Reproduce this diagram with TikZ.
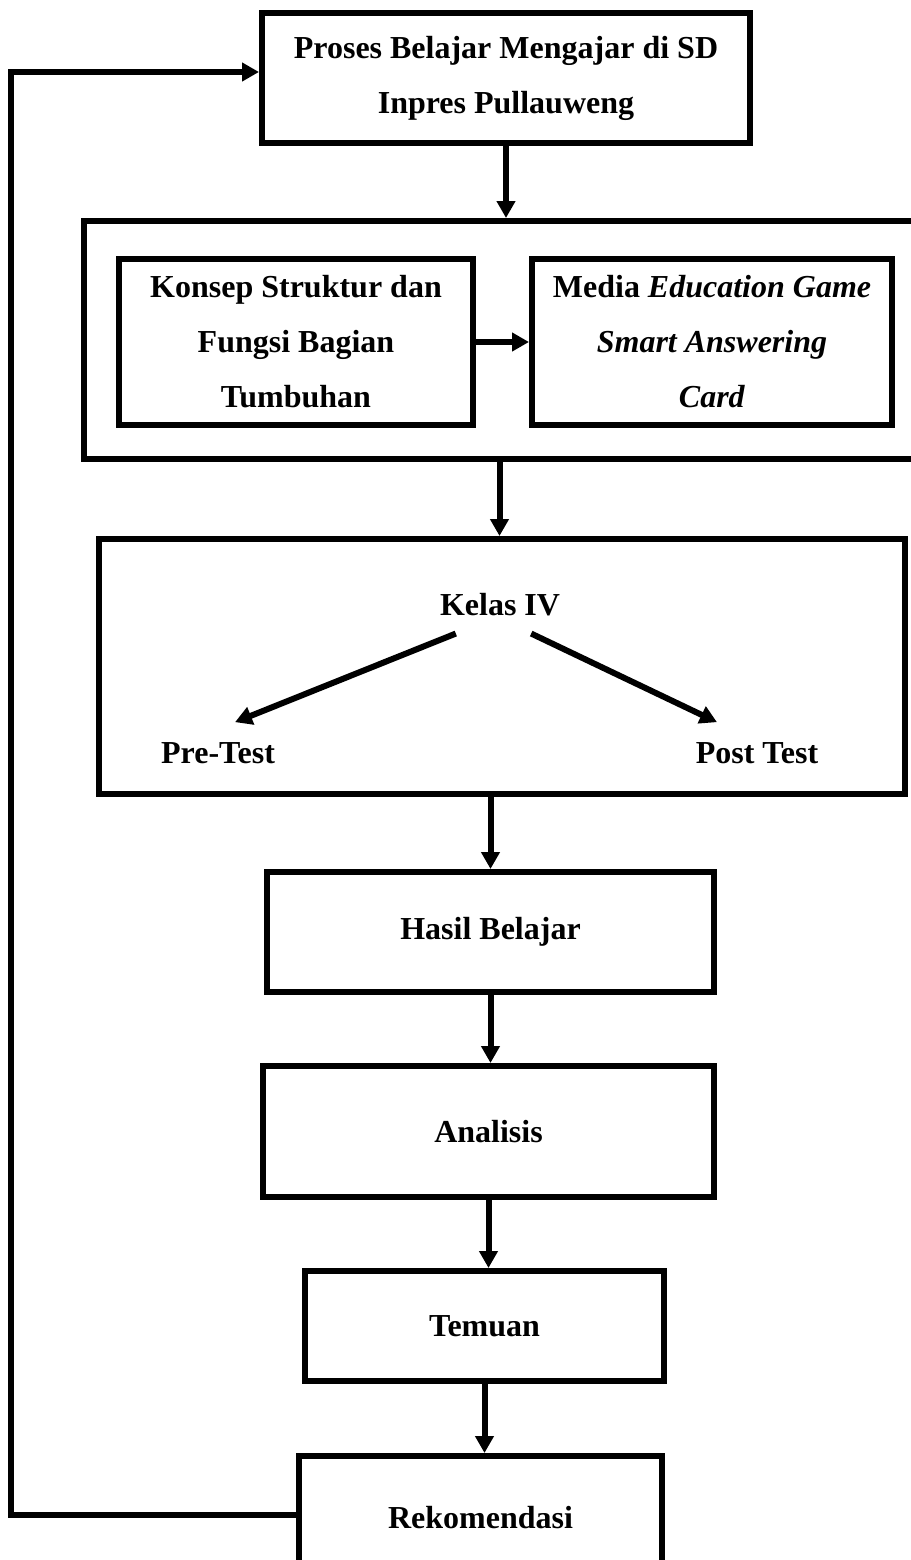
\documentclass[tikz,border=0pt]{standalone}
\usepackage{fontspec}
\setmainfont{Liberation Serif}
\usetikzlibrary{arrows.meta}
\tikzstyle{box} = [rectangle, draw=black, line width=6pt,
                   align=center, inner sep=0pt,
                   font=\fontsize{32}{55}\selectfont\bfseries]
\tikzstyle{txt} = [inner sep=0pt, font=\fontsize{32}{55}\selectfont\bfseries]
\tikzstyle{arrow} = [line width=6pt,-{Triangle[length=17pt,width=18pt]}]

\begin{document}
\begin{tikzpicture}[x=1pt, y=-1pt]
        \useasboundingbox (0,0) rectangle (910,1560);

        \node (Proses) [box, minimum width=488pt, minimum height=130pt] at (506,78)
              {Proses Belajar Mengajar di SD\\Inpres Pullauweng};

        % materi dan media
        \node (Wadah) [box, minimum width=831pt, minimum height=238pt] at (499.5,340) {};
        \node (Konsep) [box, minimum width=354pt, minimum height=166pt] at (296,342)
              {Konsep Struktur dan\\Fungsi Bagian\\Tumbuhan};
        \node (Media) [box, minimum width=360pt, minimum height=166pt] at (712,342)
              {Media \textit{Education Game}\\\textit{Smart Answering}\\\textit{Card}};

        % kelas
        \node (Kelas) [box, minimum width=806pt, minimum height=255pt] at (502,666.5) {};
        \node (KelasIV) [txt] at (500,605) {Kelas IV};
        \node (Pre) [txt] at (218,753) {Pre-Test};
        \node (Post) [txt] at (757,753) {Post Test};

        \node (Hasil) [box, minimum width=447pt, minimum height=120pt] at (490.5,932) {Hasil Belajar};
        \node (Analisis) [box, minimum width=451pt, minimum height=131pt] at (488.5,1131.5) {Analisis};
        \node (Temuan) [box, minimum width=359pt, minimum height=110pt] at (484.5,1326) {Temuan};
        \node (Rekomendasi) [box, minimum width=363pt, minimum height=124pt] at (480.5,1518) {Rekomendasi};

        \draw [arrow] (Proses.south) -- (Proses.south |- Wadah.north);
        \draw [arrow] (Konsep.east) -- (Media.west);
        \draw [arrow] (Wadah.south) -- (Wadah.south |- Kelas.north);
        \draw [arrow] ([xshift=16pt,yshift=-17pt]KelasIV.south west) -- ([xshift=17pt,yshift=20pt]Pre.north);
        \draw [arrow] ([xshift=-29pt,yshift=-17pt]KelasIV.south east) -- ([xshift=-40pt,yshift=20pt]Post.north);
        \draw [arrow] (Hasil.north |- Kelas.south) -- (Hasil.north);
        \draw [arrow] (Hasil.south) -- (Hasil.south |- Analisis.north);
        \draw [arrow] (Analisis.south) -- (Analisis.south |- Temuan.north);
        \draw [arrow] (Temuan.south) -- (Temuan.south |- Rekomendasi.north);

        % umpan balik
        \draw [arrow] ([yshift=3pt]Rekomendasi.west) -- ++(-285.5,0) |- ([yshift=6pt]Proses.west);

\end{tikzpicture}
\end{document}
